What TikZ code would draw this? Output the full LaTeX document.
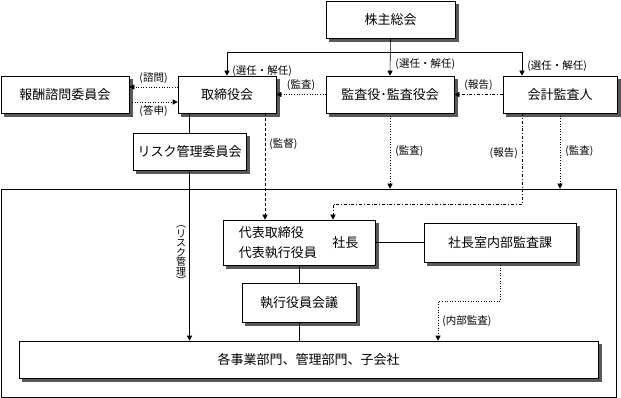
\documentclass[tikz,border=0pt]{standalone}
\usepackage{fontspec}
\setmainfont{Noto Sans CJK JP}
\usetikzlibrary{positioning,arrows.meta,calc,shadows}

\begin{document}
\begin{tikzpicture}[
    x=1pt, y=-1pt,
    box/.style={draw, fill=white, line width=0.6pt, inner sep=0pt, font=\fontsize{13}{15}\selectfont,
        copy shadow={shadow xshift=3pt, shadow yshift=-3pt, fill=black!65, draw=black!65}},
    note/.style={inner sep=1pt, font=\fontsize{10.5}{12}\selectfont},
    line/.style={line width=0.6pt},
    arr/.style={line, -{Triangle[length=5pt,width=5pt]}},
    dotarr/.style={arr, dotted},
    dasharr/.style={arr, dash pattern=on 3pt off 2pt},
    ddarr/.style={arr, dash dot}
]
\useasboundingbox (0,0) rectangle (621,398);

% Top level
\node[box, minimum width=129pt, minimum height=37pt] (gsm) at (390.5,19.5) {株主総会};
\node[box, minimum width=128pt, minimum height=37pt] (comp) at (65,94.5) {報酬諮問委員会};
\node[box, minimum width=98pt, minimum height=37pt] (board) at (227,94.5) {取締役会};
\node[box, minimum width=128pt, minimum height=37pt] (kansa) at (390,94.5) {監査役･監査役会};
\node[box, minimum width=114pt, minimum height=37pt] (acct) at (560,94.5) {会計監査人};
\node[box, minimum width=113pt, minimum height=37pt] (risk) at (189.5,151.5) {リスク管理委員会};

% Execution frame
\node[draw, line, minimum width=615pt, minimum height=208pt, inner sep=0pt] (grp) at (308.5,293) {};
\node[box, minimum width=152pt, minimum height=45pt] (ceo) at (299,242.5) {};
\node[anchor=west, align=left, inner sep=0pt, font=\fontsize{13}{20}\selectfont] (ceoname) at ([xshift=16pt]ceo.west) {代表取締役\\代表執行役員};
\node[inner sep=0pt, font=\fontsize{13}{15}\selectfont] (pres) at ([xshift=-30pt]ceo.east) {社長};
\node[box, minimum width=152pt, minimum height=39pt] (iad) at (500,242.5) {社長室内部監査課};
\node[box, minimum width=114pt, minimum height=39pt] (exec) at (299,302.5) {執行役員会議};
\node[box, minimum width=579pt, minimum height=37pt] (depts) at (308.5,359.5) {各事業部門、管理部門、子会社};

% Election
\coordinate (split) at (390,52);
\draw[arr] (gsm.south) -- (kansa.north) node[note, pos=0.68, right=4pt] {(選任・解任)};
\draw[arr] (split) -| (board.north) node[note, pos=0.9, right=4pt] {(選任・解任)};
\draw[arr] (split) -| ([xshift=-38pt]acct.north) node[note, pos=0.8, right=4pt] {(選任・解任)};

% Advisory and audit
\draw[dotarr] ([yshift=7.5pt]board.west) -- ([yshift=7.5pt]comp.east) node[note, midway, above=2pt] {(諮問)};
\draw[dotarr] ([yshift=-7.5pt]comp.east) -- ([yshift=-7.5pt]board.west) node[note, midway, below=2pt] {(答申)};
\draw[dotarr] (kansa.west) -- (board.east) node[note, midway, above=3pt] {(監査)};
\draw[ddarr] (acct.west) -- (kansa.east) node[note, midway, above=3pt] {(報告)};

% Downward
\draw[line] (board.south -| risk.north) -- (risk.north);
\draw[arr] (risk.south) -- (risk.south |- depts.north)
    node[midway, anchor=east, align=center, inner sep=3pt, font=\fontsize{10}{9.5}\selectfont] {︵\\リ\\ス\\ク\\管\\理\\︶};
\draw[dasharr] ([xshift=38pt]board.south) -- ([xshift=38pt]board.south |- ceo.north)
    node[note, pos=0.29, right=3pt] {(監督)};
\draw[dotarr] (kansa.south) -- (kansa.south |- grp.north) node[note, midway, right=4pt] {(監査)};
\coordinate (rep) at (333,204);
\draw[ddarr] ([xshift=-38pt]acct.south) |- (rep) -- (rep |- ceo.north);
\node[note, left=3pt] (replbl) at ([xshift=-38pt, yshift=-40pt]acct.south) {(報告)};
\draw[dotarr] (acct.south) -- (acct.south |- grp.north) node[note, midway, right=4pt] {(監査)};

% Inside frame
\draw[line] (ceo.east) -- (iad.west);
\draw[line] (ceo.south) -- (exec.north);
\draw[line] (exec.south) -- (exec.south |- depts.north);
\coordinate (ia) at (438,301);
\draw[dotarr] (iad.south) |- (ia) -- (ia |- depts.north) node[note, midway, right=3pt] {(内部監査)};
\end{tikzpicture}
\end{document}
